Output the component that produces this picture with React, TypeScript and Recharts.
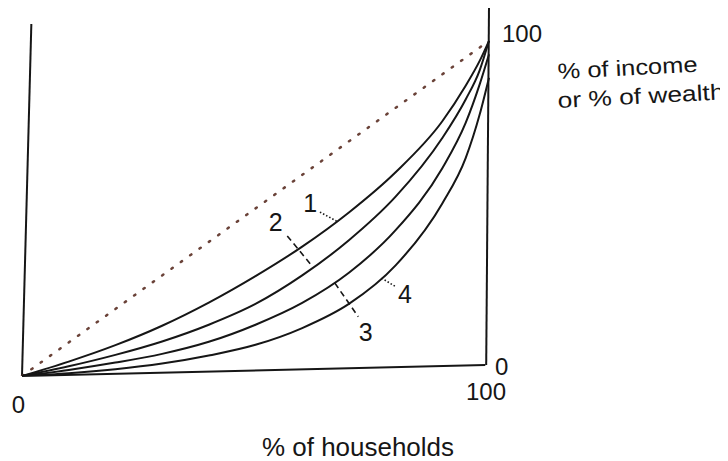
import React from 'react'
import {
  LineChart,
  Line,
  XAxis,
  YAxis,
  ReferenceLine,
  ReferenceDot,
} from 'recharts'

// % of households
const households = [0, 10, 20, 30, 40, 50, 60, 70, 80, 90, 95, 98, 100]
// line of equality (dotted)
const equality = [0, 10, 20, 30, 40, 50, 60, 70, 80, 90, 95, 98, 100]
// lorenz curves 1..4 (3 and 4 run into the right-hand axis below the top)
const curve1 = [0, 4.3, 9.2, 15.0, 21.9, 29.8, 38.6, 48.8, 60.8, 76.0, 86.6, 94.0, 100]
const curve2 = [0, 2.9, 6.3, 10.3, 15.3, 21.5, 30.0, 40.5, 53.5, 71.0, 82.5, 91.2, 100]
const curve3 = [0, 1.8, 4.0, 6.6, 10.2, 15.3, 21.8, 30.8, 43.5, 62.0, 75.5, 87.0, 96.0]
const curve4 = [0, 0.8, 2.0, 3.7, 6.1, 9.3, 14.3, 21.5, 33.0, 51.5, 65.0, 78.0, 89.0]

const xTicks = [0, 100]
const yTicks = [0, 100]

// curve labels with their leader lines
const curveLabels = [
  { name: '1', at: [61.7, 51.5], from: [63.8, 48.9], to: [67.5, 46.1], dash: '1.5 2' },
  { name: '2', at: [54.3, 45.8], from: [56.8, 41.8], to: [62.0, 33.0], dash: '6 4' },
  { name: '3', at: [73.6, 13.1], from: [67.0, 27.7], to: [72.0, 17.7], dash: '6 4' },
  { name: '4', at: [82.0, 24.5], from: [77.0, 29.2], to: [80.2, 26.5], dash: '1.5 2' },
]

const data = households.map((x, i) => ({
  x,
  eq: equality[i],
  c1: curve1[i],
  c2: curve2[i],
  c3: curve3[i],
  c4: curve4[i],
}))

const INK = '#161616'
const FONT = 'Arial, "Liberation Sans", Helvetica, sans-serif'

function XTick(props: any) {
  const { x, y, payload } = props
  const isZero = payload.value === 0
  return (
    <text
      x={x + (isZero ? -3.5 : -3)}
      y={y + (isZero ? 29 : 16)}
      textAnchor="middle"
      fontSize={24}
      fontFamily={FONT}
      fill={INK}
    >
      {payload.value}
    </text>
  )
}

function YTick(props: any) {
  const { x, y, payload } = props
  const isZero = payload.value === 0
  return (
    <text
      x={x + (isZero ? -2 : 5)}
      y={y + (isZero ? -1 : 1)}
      textAnchor="start"
      fontSize={24}
      fontFamily={FONT}
      fill={INK}
    >
      {payload.value}
    </text>
  )
}

function XLabel(props: any) {
  const vb = props.viewBox || { x: 14, y: 368 }
  return (
    <text
      x={vb.x + 336}
      y={vb.y + 80}
      textAnchor="middle"
      fontSize={26}
      fontFamily={FONT}
      fill={INK}
      textLength={192}
      lengthAdjust="spacingAndGlyphs"
    >
      % of households
    </text>
  )
}

function YLabel(props: any) {
  const vb = props.viewBox || { x: 481, y: 6 }
  const x0 = vb.x + 69
  return (
    <g fontFamily={FONT} fill={INK} fontSize={22}>
      <text
        x={x0}
        y={vb.y + 65}
        textLength={140}
        lengthAdjust="spacingAndGlyphs"
        transform={`rotate(-3 ${x0} ${vb.y + 65})`}
      >
        % of income
      </text>
      <text
        x={x0}
        y={vb.y + 94}
        textLength={167}
        lengthAdjust="spacingAndGlyphs"
        transform={`rotate(-3 ${x0} ${vb.y + 94})`}
      >
        or % of wealth
      </text>
    </g>
  )
}

export default function App() {
  return (
    <div style={{ width: 728, height: 461, background: '#fff' }}>
      <LineChart
        width={728}
        height={461}
        data={data}
        margin={{ top: 6, right: 187, bottom: 53, left: 14 }}
      >
        <XAxis
          type="number"
          dataKey="x"
          domain={[0, 100]}
          ticks={xTicks}
          axisLine={false}
          tickLine={false}
          height={40}
          tick={<XTick />}
          label={{ content: <XLabel /> }}
        />
        <YAxis
          orientation="right"
          type="number"
          domain={[0, 108]}
          ticks={yTicks}
          axisLine={false}
          tickLine={false}
          width={60}
          allowDataOverflow
          tick={<YTick />}
          label={{ content: <YLabel /> }}
        />

        {/* hand-drawn frame of the diagram */}
        <ReferenceLine
          segment={[{ x: 0, y: 0 }, { x: 2, y: 105 }]}
          stroke={INK}
          strokeWidth={2}
          ifOverflow="visible"
        />
        <ReferenceLine
          segment={[{ x: 0, y: 0 }, { x: 99.2, y: 3.3 }]}
          stroke={INK}
          strokeWidth={2}
          ifOverflow="visible"
        />
        <ReferenceLine
          segment={[{ x: 99.4, y: 3.3 }, { x: 100, y: 110 }]}
          stroke={INK}
          strokeWidth={2}
          ifOverflow="visible"
        />

        <Line
          dataKey="eq"
          type="linear"
          stroke="#6a4238"
          strokeWidth={2.5}
          strokeDasharray="1.5 10"
          strokeLinecap="round"
          dot={false}
          isAnimationActive={false}
        />
        {['c1', 'c2', 'c3', 'c4'].map(k => (
          <Line
            key={k}
            dataKey={k}
            type="monotone"
            stroke={INK}
            strokeWidth={2}
            dot={false}
            isAnimationActive={false}
          />
        ))}

        {curveLabels.map(l => (
          <ReferenceLine
            key={'lead' + l.name}
            segment={[
              { x: l.from[0], y: l.from[1] },
              { x: l.to[0], y: l.to[1] },
            ]}
            stroke={INK}
            strokeWidth={1.6}
            strokeDasharray={l.dash}
          />
        ))}
        {curveLabels.map(l => (
          <ReferenceDot
            key={'lab' + l.name}
            x={l.at[0]}
            y={l.at[1]}
            r={0}
            stroke="none"
            fill="none"
            label={{
              value: l.name,
              position: 'center',
              fontSize: 25,
              fontFamily: FONT,
              fill: INK,
            }}
          />
        ))}
      </LineChart>
    </div>
  )
}
